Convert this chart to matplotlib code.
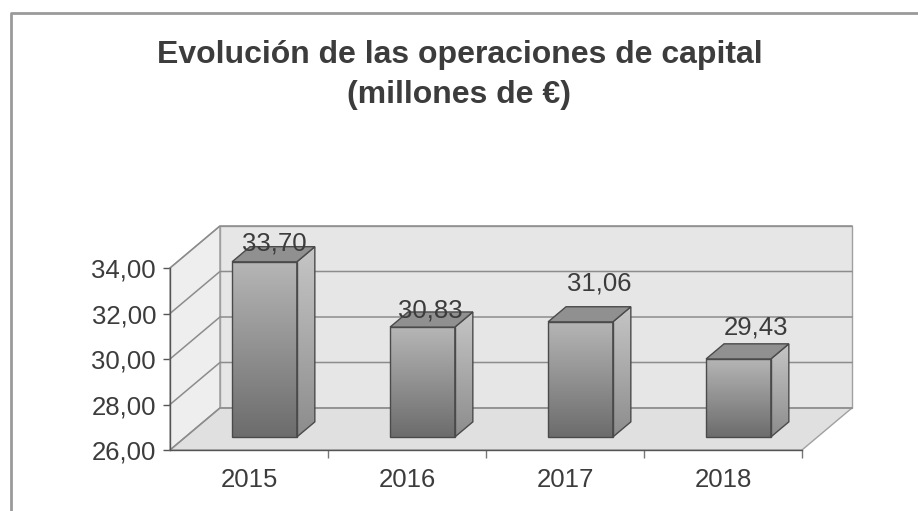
import numpy as np
import matplotlib.pyplot as plt
from matplotlib.patches import Polygon
from matplotlib.colors import LinearSegmentedColormap
from matplotlib.lines import Line2D

plt.rcParams['font.family'] = ['Liberation Sans', 'DejaVu Sans']

# datos
years = ['2015', '2016', '2017', '2018']
valores = [33.70, 30.83, 31.06, 29.43]
etiquetas = ['33,70', '30,83', '31,06', '29,43']
y_ticks = [26, 28, 30, 32, 34]
y_tick_labels = ['26,00', '28,00', '30,00', '32,00', '34,00']

y_min, y_max = 26, 34
DX, DY = 0.316, 1.846   # how far the back wall is shifted (data units)
d0, d1 = 0.31, 0.67     # depth span of every bar
ancho = 0.41
# label nudges in pixels (x, y)
nudge = [(10, 18), (8, 17), (19, 38), (18, 31)]

txt = '#3c3c3c'
grid = '#8c8c8c'


def pt(x, v, d):
    return (x + DX * d, v + DY * d)


fig = plt.figure(figsize=(9.18, 5.11), dpi=100)
ax = fig.add_axes([0, 0, 1, 1])
ax.patch.set_alpha(0)
xlim = (-170 / 158, 748 / 158)
ylim = (26 - 61 / 22.75, 26 + 450 / 22.75)

# walls and floor
izq = [pt(0, y_min, 0), pt(0, y_max, 0), pt(0, y_max, 1), pt(0, y_min, 1)]
fondo = [pt(0, y_min, 1), pt(4, y_min, 1), pt(4, y_max, 1), pt(0, y_max, 1)]
suelo = [pt(0, y_min, 0), pt(4, y_min, 0), pt(4, y_min, 1), pt(0, y_min, 1)]
ax.add_patch(Polygon(izq, closed=True, fc='#eeeeee', ec='#a0a0a0', lw=1, zorder=1))
ax.add_patch(Polygon(fondo, closed=True, fc='#e6e6e6', ec='#a0a0a0', lw=1, zorder=1))
ax.add_patch(Polygon(suelo, closed=True, fc='#e0e0e0', ec='#a0a0a0', lw=1, zorder=1))

for t in y_ticks:
    a, b, c = pt(0, t, 0), pt(0, t, 1), pt(4, t, 1)
    ax.plot([a[0], b[0], c[0]], [a[1], b[1], c[1]], color=grid, lw=1.1, zorder=2)

# bars
cm_front = LinearSegmentedColormap.from_list('f', ['#6c6c6c', '#b6b6b6'])
cm_side = LinearSegmentedColormap.from_list('s', ['#8c8c8c', '#c6c6c6'])
grad = np.linspace(0, 1, 256).reshape(-1, 1)

for i, v in enumerate(valores):
    x0 = i + 0.5 - ancho / 2
    x1 = x0 + ancho
    fx0, fy0 = pt(x0, y_min, d0)
    fx1, fy1 = pt(x1, v, d0)
    ax.imshow(grad, cmap=cm_front, origin='lower', aspect='auto',
              extent=(fx0, fx1, fy0, fy1), zorder=3)
    ax.add_patch(Polygon([(fx0, fy0), (fx1, fy0), (fx1, fy1), (fx0, fy1)],
                         closed=True, fill=False, ec='#4a4a4a', lw=1, zorder=4))

    lado = [pt(x1, y_min, d0), pt(x1, v, d0), pt(x1, v, d1), pt(x1, y_min, d1)]
    sx = [p[0] for p in lado]
    sy = [p[1] for p in lado]
    im = ax.imshow(grad, cmap=cm_side, origin='lower', aspect='auto',
                   extent=(min(sx), max(sx), min(sy), max(sy)), zorder=3)
    poly = Polygon(lado, closed=True, fill=False, ec='#4a4a4a', lw=1, zorder=4)
    ax.add_patch(poly)
    im.set_clip_path(poly)

    tapa = [pt(x0, v, d0), pt(x1, v, d0), pt(x1, v, d1), pt(x0, v, d1)]
    ax.add_patch(Polygon(tapa, closed=True, fc='#909090', ec='#4a4a4a', lw=1, zorder=4))

    ax.annotate(etiquetas[i], xy=pt(i + 0.5, v, d0), xytext=nudge[i],
                textcoords='offset pixels', ha='center', va='center',
                fontsize=18.5, color=txt, zorder=6)

# axes: y on the front left edge, categories on the front floor edge
for s in ['top', 'right']:
    ax.spines[s].set_visible(False)
ax.spines['left'].set_position(('data', 0))
ax.spines['left'].set_bounds(y_min, y_max)
ax.spines['bottom'].set_position(('data', y_min))
ax.spines['bottom'].set_bounds(0, 4)
for s in ['left', 'bottom']:
    ax.spines[s].set_color('#555555')
    ax.spines[s].set_linewidth(1)
    ax.spines[s].set_zorder(5)

ax.set_yticks(y_ticks)
ax.set_yticklabels(y_tick_labels)
ax.tick_params(axis='y', direction='out', length=5, width=1, color='#555555',
               pad=5, labelsize=18.5, labelcolor=txt)

ax.set_xticks([1, 2, 3, 4])
ax.set_xticklabels([])
ax.set_xticks([0.5, 1.5, 2.5, 3.5], minor=True)
ax.set_xticklabels(years, minor=True)
ax.tick_params(axis='x', which='major', direction='out', length=6, width=1, color='#777777')
ax.tick_params(axis='x', which='minor', length=0, pad=13, labelsize=18.5, labelcolor=txt)

ax.set_xlim(xlim)
ax.set_ylim(ylim)

# titles
fig.text(460 / 918, 1 - 63 / 511, 'Evolución de las operaciones de capital',
         ha='center', va='baseline', fontsize=23, fontweight='bold', color=txt)
fig.text(459 / 918, 1 - 103 / 511, '(millones de €)',
         ha='center', va='baseline', fontsize=23, fontweight='bold', color=txt)

# chart frame
fig.add_artist(Line2D([11 / 918, 11 / 918, 1], [0, 1 - 13 / 511, 1 - 13 / 511],
                      transform=fig.transFigure, color='#9a9a9a', lw=2))

fig.savefig('out.png', dpi=100)
